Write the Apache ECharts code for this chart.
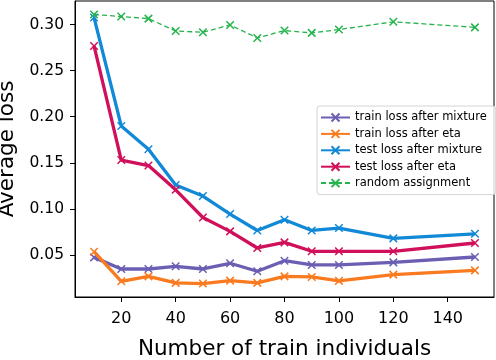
<!DOCTYPE html>
<html><head><meta charset="utf-8">
<script src="https://cdn.jsdelivr.net/npm/echarts@6/dist/echarts.min.js"></script>
<style>html,body{margin:0;padding:0;background:#fff}#c{width:496px;height:360px}</style>
</head><body><div id="c"></div>
<script>
const xs = [10,20,30,40,50,60,70,80,90,100,120,150];
const trainMixture = [0.0474,0.0348,0.0348,0.0377,0.0348,0.0410,0.0323,0.0438,0.0392,0.0392,0.0420,0.0478];
const trainEta = [0.0536,0.0214,0.0268,0.0197,0.0190,0.0222,0.0197,0.0268,0.0262,0.0219,0.0287,0.0333];
const testMixture = [0.3076,0.1900,0.1647,0.1260,0.1139,0.0944,0.0766,0.0882,0.0766,0.0792,0.0680,0.0730];
const testEta = [0.2768,0.1530,0.1470,0.1207,0.0907,0.0756,0.0576,0.0637,0.0540,0.0540,0.0540,0.0630];
const randomAssign = [0.3110,0.3087,0.3065,0.2930,0.2917,0.2996,0.2855,0.2935,0.2910,0.2946,0.3030,0.2970];
const names = ['train loss after mixture','train loss after eta','test loss after mixture','test loss after eta','random assignment'];
const xTicks = [20,40,60,80,100,120,140];
const yTicks = [0.05,0.10,0.15,0.20,0.25,0.30];

const colors = ['#6a5fb3','#fa7a1f','#1289d6','#d0105a','#25b34c'];
const series = [trainMixture,trainEta,testMixture,testEta,randomAssign];
const X = 'path://M0,0L10,10M10,0L0,10';
const font = 'DejaVu Sans';

const chart = echarts.init(document.getElementById('c'), null, {renderer:'canvas'});
chart.setOption({
  animation:false,
  backgroundColor:'#fff',
  grid:{left:75,right:2,top:1,bottom:63,containLabel:false,outerBoundsMode:'none',show:true,borderColor:'#000',borderWidth:1,backgroundColor:'transparent'},
  xAxis:{type:'value',min:3,max:157,
    name:'Number of train individuals',nameLocation:'middle',nameGap:41,
    nameTextStyle:{fontFamily:font,fontSize:21.5,color:'#000'},
    axisLine:{show:true,onZero:false,lineStyle:{color:'#000',width:1}},
    axisTick:{show:true,length:5,lineStyle:{color:'#000'},customValues:xTicks},
    axisLabel:{fontFamily:font,fontSize:16,color:'#000',margin:14,customValues:xTicks},
    splitLine:{show:false}},
  yAxis:{type:'value',min:0.0044,max:0.3256,
    name:'Average loss',nameLocation:'middle',nameGap:50,nameRotate:90,
    nameTextStyle:{fontFamily:font,fontSize:21.5,color:'#000'},
    axisLine:{show:true,onZero:false,lineStyle:{color:'#000',width:1}},
    axisTick:{show:true,length:5,lineStyle:{color:'#000'},customValues:yTicks},
    axisLabel:{fontFamily:font,fontSize:15.5,color:'#000',margin:11,customValues:yTicks,formatter:v=>v.toFixed(2)},
    splitLine:{show:false}},
  legend:{orient:'vertical',left:317,top:106,itemWidth:29,itemHeight:10,itemGap:3.4,
    padding:[5,9,5,3],backgroundColor:'rgba(255,255,255,0.8)',borderColor:'#d4d4d4',borderWidth:1,borderRadius:3,
    textStyle:{fontFamily:font,fontSize:11.5,lineHeight:13,color:'#000'},data:names},
  series:series.map((d,i)=>({
    name:names[i],type:'line',
    data:xs.map((x,j)=>[x,d[j]]),
    symbol:X,symbolSize:7.5,showSymbol:true,
    itemStyle:{color:colors[i],borderColor:colors[i],borderWidth:1.5},
    lineStyle:{color:colors[i],width:i===4?1.3:3.3,type:i===4?[5,3]:'solid'},
    emphasis:{disabled:true},z:2+i
  }))
});
</script></body></html>
